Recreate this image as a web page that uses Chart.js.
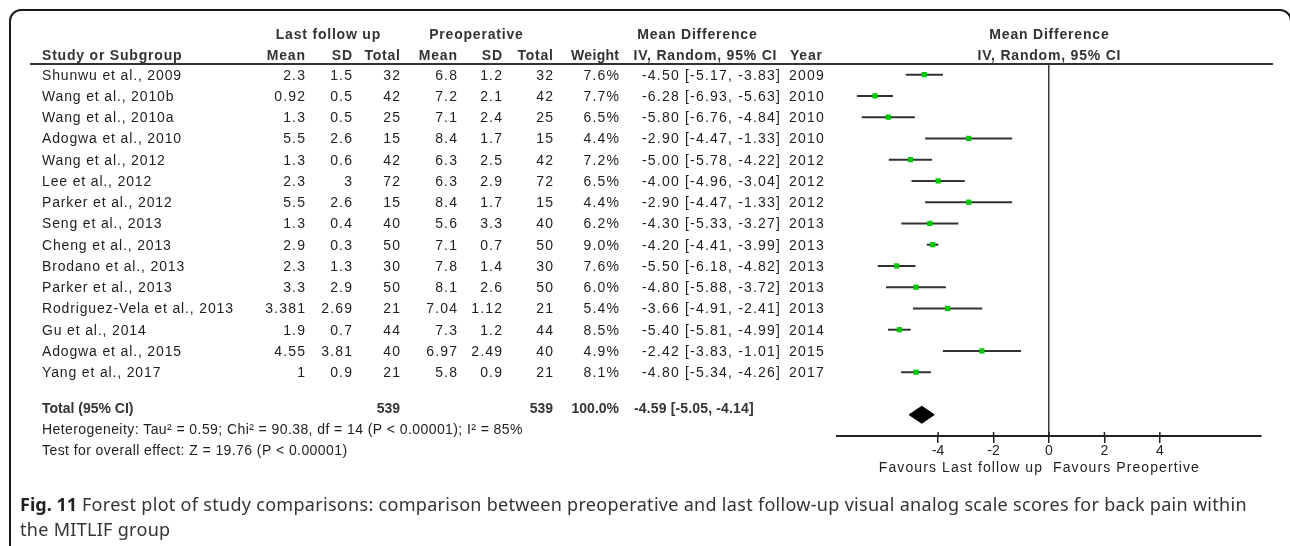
<!DOCTYPE html>
<html>
<head>
<meta charset="utf-8">
<script src="https://cdn.jsdelivr.net/npm/chart.js@4.4.1/dist/chart.umd.min.js"></script>
<style>
  html, body { margin: 0; padding: 0; background: #fff; overflow: hidden; }
  #wrap { position: relative; width: 1290px; height: 546px; overflow: hidden; }
  #frame { position: absolute; left: 9px; top: 9px; width: 1283px; height: 600px; border: 2px solid #1a1a1a; border-radius: 12px; box-sizing: border-box; }
  #forest { position: absolute; left: 0; top: 0; }
  #caption { position: absolute; left: 20px; top: 492px; font-family: "Noto Sans", sans-serif; font-size: 18px; letter-spacing: 0.3px; line-height: 25px; color: #333; white-space: nowrap; }
  #caption b { color: #222; letter-spacing: 0; }
</style>
</head>
<body>
<div id="wrap">
  <div id="frame"></div>
  <canvas id="forest" width="1290" height="546"></canvas>
  <div id="caption"><b>Fig. 11</b> Forest plot of study comparisons: comparison between preoperative and last follow-up visual analog scale scores for back pain within<br>the MITLIF group</div>
</div>
<script>
// study rows
const studies = [
  'Shunwu et al., 2009', 'Wang et al., 2010b', 'Wang et al., 2010a', 'Adogwa et al., 2010',
  'Wang et al., 2012', 'Lee et al., 2012', 'Parker et al., 2012', 'Seng et al., 2013',
  'Cheng et al., 2013', 'Brodano et al., 2013', 'Parker et al., 2013', 'Rodriguez-Vela et al., 2013',
  'Gu et al., 2014', 'Adogwa et al., 2015', 'Yang et al., 2017'
];
const lastMean  = [2.3, 0.92, 1.3, 5.5, 1.3, 2.3, 5.5, 1.3, 2.9, 2.3, 3.3, 3.381, 1.9, 4.55, 1];
const lastSD    = [1.5, 0.5, 0.5, 2.6, 0.6, 3, 2.6, 0.4, 0.3, 1.3, 2.9, 2.69, 0.7, 3.81, 0.9];
const lastTotal = [32, 42, 25, 15, 42, 72, 15, 40, 50, 30, 50, 21, 44, 40, 21];
const preMean   = [6.8, 7.2, 7.1, 8.4, 6.3, 6.3, 8.4, 5.6, 7.1, 7.8, 8.1, 7.04, 7.3, 6.97, 5.8];
const preSD     = [1.2, 2.1, 2.4, 1.7, 2.5, 2.9, 1.7, 3.3, 0.7, 1.4, 2.6, 1.12, 1.2, 2.49, 0.9];
const preTotal  = [32, 42, 25, 15, 42, 72, 15, 40, 50, 30, 50, 21, 44, 40, 21];
const weights   = [7.6, 7.7, 6.5, 4.4, 7.2, 6.5, 4.4, 6.2, 9.0, 7.6, 6.0, 5.4, 8.5, 4.9, 8.1];
const meanDiff  = [-4.50, -6.28, -5.80, -2.90, -5.00, -4.00, -2.90, -4.30, -4.20, -5.50, -4.80, -3.66, -5.40, -2.42, -4.80];
const ciLow     = [-5.17, -6.93, -6.76, -4.47, -5.78, -4.96, -4.47, -5.33, -4.41, -6.18, -5.88, -4.91, -5.81, -3.83, -5.34];
const ciHigh    = [-3.83, -5.63, -4.84, -1.33, -4.22, -3.04, -1.33, -3.27, -3.99, -4.82, -3.72, -2.41, -4.99, -1.01, -4.26];
const years     = [2009, 2010, 2010, 2010, 2012, 2012, 2012, 2013, 2013, 2013, 2013, 2013, 2014, 2015, 2017];

// pooled result
const totalLast = 539;
const totalPre = 539;
const totalWeight = 100.0;
const totalMD = -4.59;
const totalLow = -5.05;
const totalHigh = -4.14;
const heterogeneity = 'Heterogeneity: Tau\u00b2 = 0.59; Chi\u00b2 = 90.38, df = 14 (P < 0.00001); I\u00b2 = 85%';
const overallTest = 'Test for overall effect: Z = 19.76 (P < 0.00001)';

const xTicks = [-4, -2, 0, 2, 4];
const totalRow = 16;

const FONT = '"Liberation Sans", Arial, sans-serif';

function put(ctx, s, x, y, opt = {}) {
    const ls = opt.ls || 0;
    ctx.save();
    ctx.font = (opt.bold ? 'bold ' : '') + (opt.size || 14) + 'px ' + FONT;
    ctx.fillStyle = opt.color || '#1e1e1e';
    ctx.textAlign = opt.align || 'left';
    ctx.textBaseline = 'alphabetic';
    if ('letterSpacing' in ctx) ctx.letterSpacing = ls + 'px';
    // canvas adds the spacing after the last glyph too
    if (opt.align === 'right') x += ls;
    if (opt.align === 'center') x += ls / 2;
    ctx.fillText(s, x, y);
    ctx.restore();
}

const fmt = v => v.toFixed(2);

// left table + headers, rows placed on the chart's own y scale
const tablePlugin = {
    id: 'forestTable',
    afterDraw(chart) {
        const ctx = chart.ctx;
        const ys = chart.scales.y;
        const xs = chart.scales.x;
        const area = chart.chartArea;
        const zero = xs.getPixelForValue(0);
        const hd = { bold: true, color: '#333', ls: 0.8 };
        const num = { align: 'right', ls: 1.2 };

        ctx.save();
        ctx.strokeStyle = '#333';
        ctx.lineWidth = 2;
        // header line
        ctx.beginPath();
        ctx.moveTo(30, area.top);
        ctx.lineTo(1273, area.top);
        ctx.stroke();
        // tick marks poke a little above the axis line
        ctx.strokeStyle = '#222';
        ctx.lineWidth = 1.5;
        xs.ticks.forEach(t => {
            const px = xs.getPixelForValue(t.value);
            ctx.beginPath();
            ctx.moveTo(px, area.bottom - 4);
            ctx.lineTo(px, area.bottom);
            ctx.stroke();
        });
        ctx.restore();

        // group headers
        put(ctx, 'Last follow up', 328, 39, { ...hd, align: 'center' });
        put(ctx, 'Preoperative', 476, 39, { ...hd, align: 'center' });
        put(ctx, 'Mean Difference', 697, 39, { ...hd, align: 'center' });
        put(ctx, 'Mean Difference', zero, 39, { ...hd, align: 'center' });

        put(ctx, 'Study or Subgroup', 42, 60, hd);
        put(ctx, 'Mean', 305, 60, { ...hd, align: 'right' });
        put(ctx, 'SD', 352, 60, { ...hd, align: 'right' });
        put(ctx, 'Total', 400, 60, { ...hd, align: 'right' });
        put(ctx, 'Mean', 457, 60, { ...hd, align: 'right' });
        put(ctx, 'SD', 502, 60, { ...hd, align: 'right' });
        put(ctx, 'Total', 553, 60, { ...hd, align: 'right' });
        put(ctx, 'Weight', 619, 60, { ...hd, align: 'right', ls: 0.3 });
        put(ctx, 'IV, Random, 95% CI', 705, 60, { ...hd, align: 'center' });
        put(ctx, 'Year', 790, 60, hd);
        put(ctx, 'IV, Random, 95% CI', zero, 60, { ...hd, align: 'center' });

        // study rows
        studies.forEach((name, i) => {
            const y = ys.getPixelForValue(i) + 5;
            put(ctx, name, 42, y, { ls: 0.85 });
            put(ctx, String(lastMean[i]), 305, y, num);
            put(ctx, String(lastSD[i]), 352, y, num);
            put(ctx, String(lastTotal[i]), 400, y, num);
            put(ctx, String(preMean[i]), 457, y, num);
            put(ctx, String(preSD[i]), 502, y, num);
            put(ctx, String(preTotal[i]), 553, y, num);
            put(ctx, weights[i].toFixed(1) + '%', 619, y, num);
            put(ctx, `${fmt(meanDiff[i])} [${fmt(ciLow[i])}, ${fmt(ciHigh[i])}]`, 642, y, { ls: 1.2 });
            put(ctx, String(years[i]), 789, y, { ls: 1.2 });
        });

        // total + footer
        const tot = { bold: true, color: '#333' };
        const ty = ys.getPixelForValue(totalRow - 0.33) + 5;
        put(ctx, 'Total (95% CI)', 42, ty, tot);
        put(ctx, String(totalLast), 400, ty, { ...tot, align: 'right' });
        put(ctx, String(totalPre), 553, ty, { ...tot, align: 'right' });
        put(ctx, totalWeight.toFixed(1) + '%', 619, ty, { ...tot, align: 'right' });
        put(ctx, `${fmt(totalMD)} [${fmt(totalLow)}, ${fmt(totalHigh)}]`, 634, ty, { ...tot, ls: 0.15 });
        put(ctx, heterogeneity, 42, ty + 21, { ls: 0.42 });
        put(ctx, overallTest, 42, ty + 42.5, { ls: 0.42 });

        // favours labels under the axis
        const fy = area.bottom + 36;
        put(ctx, 'Favours Last follow up', zero - 7, fy, { align: 'right', ls: 1.1 });
        put(ctx, 'Favours Preopertive', zero + 4, fy, { ls: 1.1 });
    }
};

const ciSets = studies.map((s, i) => ({
    label: s,
    data: [{ x: ciLow[i], y: i }, { x: ciHigh[i], y: i }],
    showLine: true,
    borderColor: '#333',
    borderWidth: 2,
    pointRadius: 0,
    order: 2
}));

const pointSet = {
    label: 'Mean difference',
    data: meanDiff.map((v, i) => ({ x: v, y: i })),
    pointStyle: 'rect',
    pointRadius: 3.7,
    backgroundColor: '#00c800',
    borderWidth: 0,
    showLine: false,
    order: 0
};

const diamondSet = {
    label: 'Total',
    data: [
        { x: totalLow, y: totalRow },
        { x: totalMD, y: totalRow - 0.4 },
        { x: totalHigh, y: totalRow },
        { x: totalMD, y: totalRow + 0.4 },
        { x: totalLow, y: totalRow }
    ],
    showLine: true,
    fill: 'shape',
    backgroundColor: '#000',
    borderColor: '#000',
    borderWidth: 1,
    pointRadius: 0,
    order: 1
};

new Chart(document.getElementById('forest'), {
    type: 'scatter',
    data: { datasets: [pointSet, diamondSet, ...ciSets] },
    options: {
        responsive: false,
        animation: false,
        devicePixelRatio: 1,
        layout: { padding: { left: 837, right: 29, top: 64, bottom: 74 } },
        plugins: { legend: { display: false }, tooltip: { enabled: false } },
        scales: {
            x: {
                type: 'linear',
                min: -7.65,
                max: 7.65,
                afterBuildTicks: (s) => { s.ticks = xTicks.map(v => ({ value: v })); },
                afterFit: (s) => { s.height = 36; },
                grid: {
                    color: (c) => (c.tick && c.tick.value === 0 ? '#3a3a3a' : 'rgba(0,0,0,0)'),
                    lineWidth: 1.5,
                    tickColor: '#222',
                    tickLength: 7
                },
                border: { display: true, color: '#222', width: 2 },
                ticks: {
                    color: '#222',
                    font: { family: FONT, size: 14 },
                    padding: 0,
                    maxRotation: 0,
                    autoSkip: false,
                    callback: (v) => String(v)
                }
            },
            y: { type: 'linear', display: false, min: -0.5, max: 17, reverse: true }
        }
    },
    plugins: [tablePlugin]
});
</script>
</body>
</html>
